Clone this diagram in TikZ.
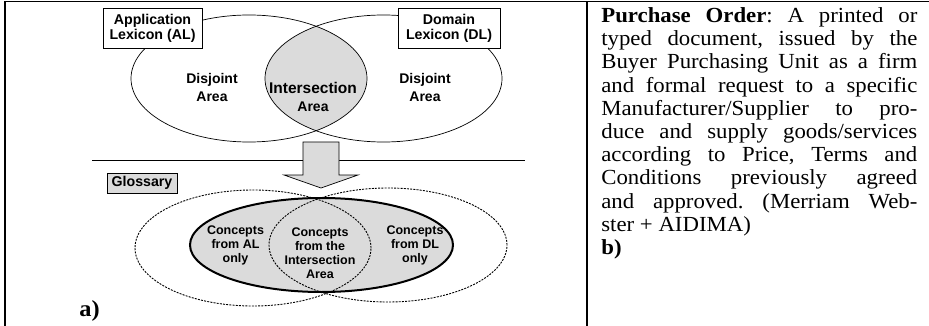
\documentclass[tikz,border=0pt]{standalone}
\usepackage{fontspec}
\setmainfont{Liberation Serif}[FakeStretch=1.06]
\newfontfamily\arialfont{Liberation Sans}
\usetikzlibrary{positioning}
\frenchspacing

\definecolor{areagrey}{gray}{0.86}

\begin{document}
\begin{tikzpicture}[x=1pt,y=-1pt,line width=0.7pt,
    lexbox/.style={draw,fill=white,align=center,minimum height=40pt,inner sep=2pt,
        font=\arialfont\bfseries\fontsize{14.2}{15}\selectfont},
    area/.style={align=center,font=\arialfont\bfseries\fontsize{14}{18}\selectfont},
    concept/.style={align=center,font=\arialfont\bfseries\fontsize{12.5}{14}\selectfont},
    setline/.style={line width=0.9pt,dash pattern=on 2pt off 1.2pt},
    framerule/.style={line width=1.6pt}]
    \useasboundingbox (0,0) rectangle (929,326);

    % lexicons
    \begin{scope}
        \clip (249,78.5) ellipse [x radius=118pt,y radius=63.5pt];
        \fill[areagrey] (383.5,78.5) ellipse [x radius=118.5pt,y radius=63.5pt];
    \end{scope}
    \draw (249,78.5) ellipse [x radius=118pt,y radius=63.5pt];
    \draw (383.5,78.5) ellipse [x radius=118.5pt,y radius=63.5pt];
    \node[lexbox,minimum width=99pt] (al) at (152.5,28) {Application\\Lexicon (AL)};
    \node[lexbox,minimum width=102pt] (dl) at (449,28) {Domain\\Lexicon (DL)};
    \node[area] (inter) at (313,97) {\fontsize{15.5}{20}\selectfont Intersection\\Area};
    \node[area] (disjl) at (212,87) {Disjoint\\Area};
    \node[area] (disjr) at (425,87) {Disjoint\\Area};

    % step to the glossary
    \draw (92,160) -- (525,160);
    \draw[fill=areagrey] (303,142) -- (339,142) -- (339,175) -- (358,175) -- (321,188)
        -- (284,175) -- (303,175) -- cycle;

    % glossary
    \node[draw,fill=areagrey,minimum width=70pt,minimum height=20pt,inner sep=1pt,
        font=\arialfont\bfseries\fontsize{14.2}{15}\selectfont] (gloss) at (142,183) {Glossary};
    \draw[line width=2pt,fill=areagrey] (321.5,245) ellipse [x radius=131.5pt,y radius=47pt];
    \draw[setline] (253,248) ellipse [x radius=118pt,y radius=58pt];
    \draw[setline] (388,245) ellipse [x radius=119pt,y radius=57pt];
    \node[concept] (cal) at (235.5,245) {Concepts\\from AL\\only};
    \node[concept] (cint) at (320,253) {Concepts\\from the\\Intersection\\Area};
    \node[concept] (cdl) at (415,245) {Concepts\\from DL\\only};

    \node[anchor=base west,inner sep=0pt,font=\bfseries\fontsize{23}{26}\selectfont] (parta) at (79,316) {a)};

    % table frame
    \draw[framerule] (5,326) -- (5,1.5) -- (929,1.5);
    \draw[framerule] (587,1.5) -- (587,326);

    % definition
    \node[anchor=base west,text width=316pt,align=justify,inner sep=0pt,
        font=\fontsize{21.5}{23.2}\selectfont] (def) at (601,22.5)
        {\textbf{Purchase Order}: A printed or\linebreak
        typed document, issued by the\linebreak
        Buyer Purchasing Unit as a firm\linebreak
        and formal request to a specific\linebreak
        Manufacturer/Supplier to pro-\linebreak
        duce and supply goods/services\linebreak
        according to Price, Terms and\linebreak
        Conditions previously agreed\linebreak
        and approved. (Merriam Web-\linebreak
        ster + AIDIMA)\newline
        \textbf{b)}};
\end{tikzpicture}
\end{document}
